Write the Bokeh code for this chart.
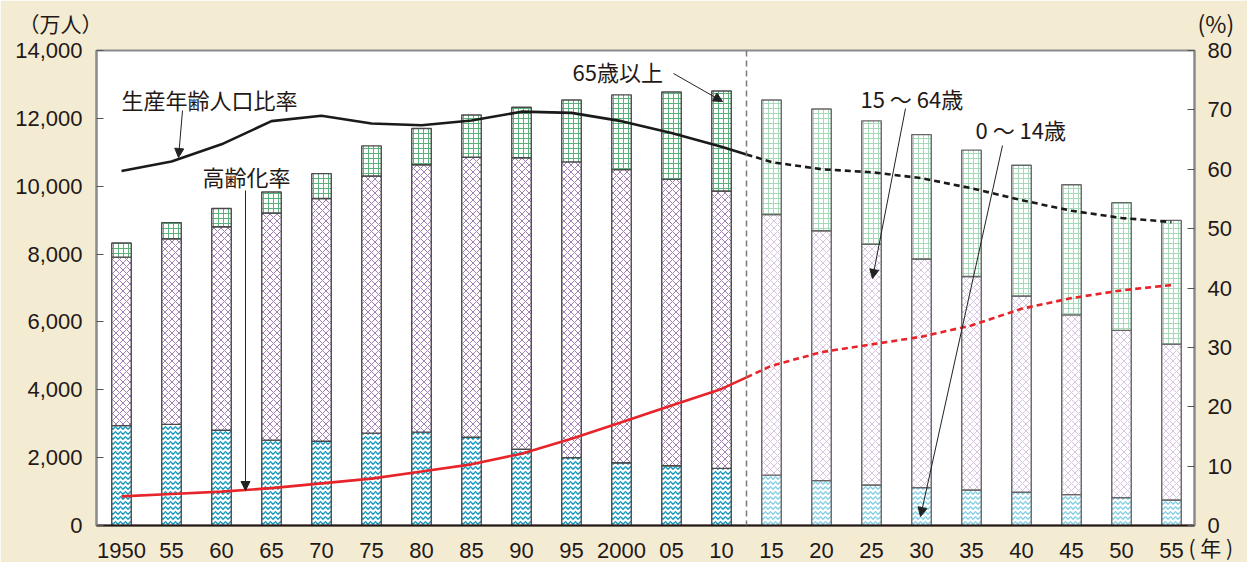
from bokeh.plotting import figure
from bokeh.models import (ColumnDataSource, Range1d, LinearAxis, FixedTicker,
                          NumeralTickFormatter, Span, Label, Arrow, NormalHead)
from bokeh.core.properties import value
from bokeh.embed import file_html
from bokeh.resources import INLINE

# Population by age group (10,000 persons); 2015 onward are projections
year_labels = ["1950", "55", "60", "65", "70", "75", "80", "85", "90", "95", "2000",
               "05", "10", "15", "20", "25", "30", "35", "40", "45", "50", "55"]
age_0_14 = [2943, 2980, 2807, 2517, 2482, 2722, 2751, 2603, 2249, 2001, 1851,
            1759, 1684, 1484, 1324, 1195, 1115, 1047, 979, 909, 821, 752]
age_15_64 = [4966, 5473, 6000, 6693, 7157, 7581, 7883, 8251, 8590, 8716, 8638,
             8442, 8173, 7681, 7363, 7096, 6740, 6292, 5787, 5300, 4930, 4595]
age_65_over = [416, 475, 535, 618, 733, 887, 1065, 1247, 1489, 1826, 2204,
               2576, 2948, 3378, 3590, 3635, 3667, 3725, 3853, 3835, 3764, 3646]

# Ratios (%)
working_age_ratio = [59.7, 61.3, 64.2, 68.1, 69.0, 67.7, 67.4, 68.2, 69.7, 69.5, 68.1,
                     66.1, 63.8, 61.2, 60.0, 59.5, 58.5, 56.8, 54.8, 53.0, 51.8, 51.1]
aging_rate = [4.9, 5.3, 5.7, 6.3, 7.1, 7.9, 9.1, 10.3, 12.1, 14.6, 17.4,
              20.2, 23.0, 26.9, 29.2, 30.5, 31.8, 33.7, 36.5, 38.3, 39.6, 40.5]

first_projection = 13  # index of 2015

JP_FONT = "Noto Sans CJK JP"
NUM_FONT = "Liberation Sans"
INK = "#231815"
BG = "#f3ecd3"

n = len(year_labels)
xs = list(range(n))
proj = [i >= first_projection for i in xs]

t1 = list(age_0_14)
t2 = [a + b for a, b in zip(age_0_14, age_15_64)]
t3 = [a + b + c for a, b, c in zip(age_0_14, age_15_64, age_65_over)]

src = ColumnDataSource(dict(
    x=xs,
    zero=[0] * n, t1=t1, t2=t2, t3=t3,
    c_young=["#86cfe4" if p else "#1598bd" for p in proj],
    c_work=["#d9c4e3" if p else "#a37cb5" for p in proj],
    c_old=["#a6d9b7" if p else "#5bb179" for p in proj],
    edge=["#666666" if p else "#4a4a4a" for p in proj],
))

p = figure(width=1247, height=562, x_range=Range1d(-0.5, 21.46), y_range=Range1d(0, 14000),
           output_backend="svg", toolbar_location=None,
           min_border_left=96, min_border_right=53, min_border_top=50, min_border_bottom=37,
           background_fill_color="white", border_fill_color=BG)
p.outline_line_color = "#8a8a8a"
p.outline_line_width = 2
p.xgrid.grid_line_color = None
p.ygrid.grid_line_color = None
p.extra_y_ranges = {"pct": Range1d(0, 80)}

W = 0.39
common = dict(x="x", width=W, source=src, fill_color="white", line_color="edge", line_width=1.4)
p.vbar(bottom="zero", top="t1", hatch_pattern="horizontal_wave", hatch_color="c_young",
       hatch_scale=5, hatch_weight=1.4, **common)
p.vbar(bottom="t1", top="t2", hatch_pattern="diagonal_cross", hatch_color="c_work",
       hatch_scale=7, hatch_weight=1.0, **common)
p.vbar(bottom="t2", top="t3", hatch_pattern="cross", hatch_color="c_old",
       hatch_scale=5, hatch_weight=1.0, **common)

# Boundary between census results and projections
p.add_layout(Span(location=first_projection - 0.5, dimension="height",
                  line_color="#7a7a7a", line_dash="6 4", line_width=1.5))

# Ratio lines: solid for results, dashed for projections
k = first_projection
split_x = k - 0.5

def split(series):
    mid = (series[k - 1] + series[k]) / 2
    solid = (xs[:k] + [split_x], series[:k] + [mid])
    dashed = ([split_x] + xs[k:], [mid] + series[k:])
    return solid, dashed

for series, color in ((working_age_ratio, "#1a1a1a"), (aging_rate, "#e8242b")):
    (sx, sy), (qx, qy) = split(series)
    p.line(sx, sy, y_range_name="pct", line_color=color, line_width=2.6)
    p.line(qx, qy, y_range_name="pct", line_color=color, line_width=2.6, line_dash="6 4")

# Axes
p.xaxis.ticker = FixedTicker(ticks=xs)
p.xaxis.major_label_overrides = {i: s for i, s in enumerate(year_labels)}
p.xaxis.major_tick_line_color = None
p.xaxis.minor_tick_line_color = None
p.xaxis.axis_line_color = INK
p.xaxis.axis_line_width = 2
p.xaxis.major_label_standoff = 11
p.xaxis.major_label_text_font = NUM_FONT
p.xaxis.major_label_text_font_size = "22px"
p.xaxis.major_label_text_color = INK

p.yaxis.ticker = FixedTicker(ticks=list(range(0, 14001, 2000)))
p.yaxis.formatter = NumeralTickFormatter(format="0,0")
p.yaxis.axis_line_color = "#8a8a8a"
p.yaxis.axis_line_width = 2
p.yaxis.major_tick_in = 7
p.yaxis.major_tick_out = 0
p.yaxis.major_tick_line_color = "#555555"
p.yaxis.minor_tick_line_color = None
p.yaxis.major_label_standoff = 14
p.yaxis.major_label_text_font = NUM_FONT
p.yaxis.major_label_text_font_size = "22px"
p.yaxis.major_label_text_color = INK

raxis = LinearAxis(y_range_name="pct", ticker=FixedTicker(ticks=list(range(0, 81, 10))))
raxis.axis_line_color = "#8a8a8a"
raxis.axis_line_width = 2
raxis.major_tick_in = 7
raxis.major_tick_out = 0
raxis.major_tick_line_color = "#555555"
raxis.minor_tick_line_color = None
raxis.major_label_standoff = 13
raxis.major_label_text_font = NUM_FONT
raxis.major_label_text_font_size = "22px"
raxis.major_label_text_color = INK
p.add_layout(raxis, "right")

# Helpers: place annotations by canvas pixel position
def px_x(px):
    return (px - 121) / 50

def px_y(py):
    return (525 - py) * 14000 / 475

def note(text, x, y, size="22px"):
    p.add_layout(Label(x=px_x(x), y=px_y(y), text=text, text_font=JP_FONT, text_font_size=size,
                       text_color=INK, text_align="left", text_baseline="middle"))

def pointer(x0, y0, x1, y1):
    p.add_layout(Arrow(x_start=px_x(x0), y_start=px_y(y0), x_end=px_x(x1), y_end=px_y(y1),
                       line_color="#222222", line_width=1,
                       end=NormalHead(size=9, fill_color="#222222", line_color="#222222")))

# Unit captions sit in the margins, so they are drawn on the unclipped overlay level
def unit(text, x, y, size="21px"):
    p.text(x=[px_x(x)], y=[px_y(y)], text=[text], text_font=value(JP_FONT),
           text_font_size=size, text_color=INK, text_align="left",
           text_baseline="middle", level="overlay")

unit("（万人）", 18, 22)
unit("(%)", 1197, 22, size="23px")
unit("( 年 )", 1188, 546, size="21px")

note("生産年齢人口比率", 121, 98)
pointer(182, 110, 178, 157)
note("高齢化率", 202, 175)
pointer(245, 190, 245, 490)
note("65歳以上", 572, 70)
pointer(673, 73, 722, 101)
note("15 ～ 64歳", 860, 97)
pointer(905, 108, 872, 278)
note("0 ～ 14歳", 975, 128)
pointer(1002, 145, 920, 516)

open("out.html", "w").write(file_html(p, INLINE))
